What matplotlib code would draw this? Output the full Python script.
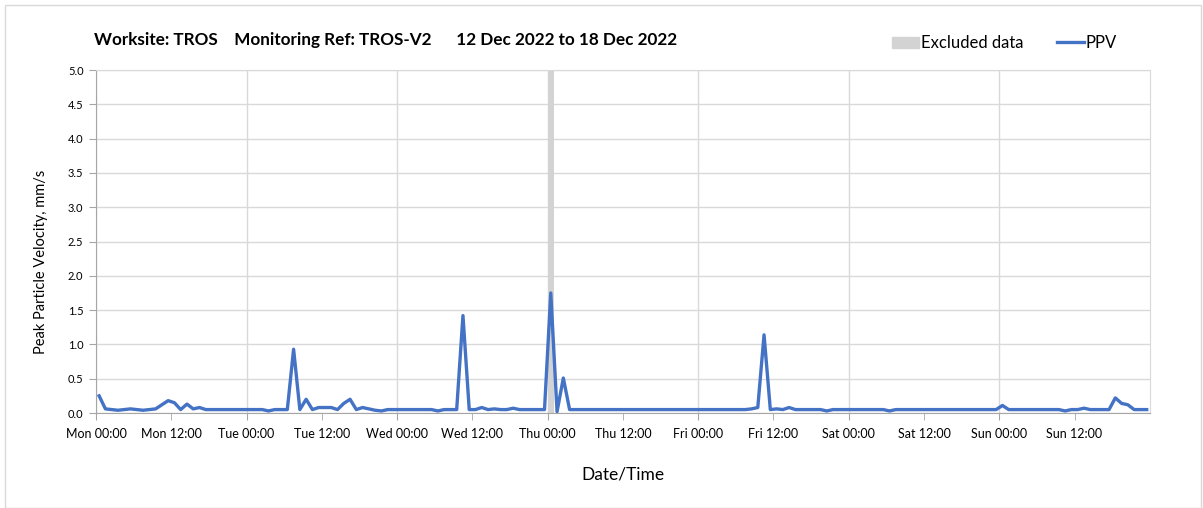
import numpy as np
import matplotlib
matplotlib.use('Agg')
import matplotlib.pyplot as plt
from matplotlib.patches import Patch, Rectangle
from matplotlib.lines import Line2D

plt.rcParams['font.family'] = ['Lato', 'DejaVu Sans']

# hourly PPV readings (mm/s), Mon 00:30 .. Sun 23:30
ppv = [
    0.25, 0.06, 0.05, 0.04, 0.05, 0.06, 0.05, 0.04, 0.05, 0.06, 0.12, 0.18,
    0.15, 0.05, 0.13, 0.06, 0.08, 0.05, 0.05, 0.05, 0.05, 0.05, 0.05, 0.05,
    0.05, 0.05, 0.05, 0.03, 0.05, 0.05, 0.05, 0.93, 0.05, 0.20, 0.05, 0.08,
    0.08, 0.08, 0.05, 0.14, 0.20, 0.05, 0.08, 0.06, 0.04, 0.03, 0.05, 0.05,
    0.05, 0.05, 0.05, 0.05, 0.05, 0.05, 0.03, 0.05, 0.05, 0.05, 1.42, 0.05,
    0.05, 0.08, 0.05, 0.06, 0.05, 0.05, 0.07, 0.05, 0.05, 0.05, 0.05, 0.05,
    1.75, 0.02, 0.51, 0.05, 0.05, 0.05, 0.05, 0.05, 0.05, 0.05, 0.05, 0.05,
    0.05, 0.05, 0.05, 0.05, 0.05, 0.05, 0.05, 0.05, 0.05, 0.05, 0.05, 0.05,
    0.05, 0.05, 0.05, 0.05, 0.05, 0.05, 0.05, 0.05, 0.06, 0.08, 1.14, 0.05,
    0.06, 0.05, 0.08, 0.05, 0.05, 0.05, 0.05, 0.05, 0.03, 0.05, 0.05, 0.05,
    0.05, 0.05, 0.05, 0.05, 0.05, 0.05, 0.03, 0.05, 0.05, 0.05, 0.05, 0.05,
    0.05, 0.05, 0.05, 0.05, 0.05, 0.05, 0.05, 0.05, 0.05, 0.05, 0.05, 0.05,
    0.11, 0.05, 0.05, 0.05, 0.05, 0.05, 0.05, 0.05, 0.05, 0.05, 0.03, 0.05,
    0.05, 0.07, 0.05, 0.05, 0.05, 0.05, 0.22, 0.14, 0.12, 0.05, 0.05, 0.05,
]
hours = np.arange(len(ppv)) + 0.5

# excluded period, hours from Mon 00:00
excluded = (72, 73)

days = ['Mon', 'Tue', 'Wed', 'Thu', 'Fri', 'Sat', 'Sun']
major_labels = [d + ' 00:00' for d in days]
minor_labels = [d + ' 12:00' for d in days]

title = 'Worksite: TROS    Monitoring Ref: TROS-V2      12 Dec 2022 to 18 Dec 2022'

fig = plt.figure(figsize=(12.03, 5.08), dpi=100)
ax = fig.add_axes([0.0798, 0.187, 0.876, 0.675])

ax.axvspan(excluded[0], excluded[1], color='#D3D3D3', lw=0, zorder=1)
ax.plot(hours, ppv, color='#4472C4', lw=2.4, zorder=3, solid_joinstyle='round')

ax.set_xlim(0, 168)
ax.set_ylim(0, 5)
ax.set_yticks(np.arange(0, 5.01, 0.5))
ax.set_yticklabels(['%.1f' % v for v in np.arange(0, 5.01, 0.5)], fontsize=8)
ax.set_xticks(np.arange(0, 168, 24))
ax.set_xticklabels(major_labels, fontsize=9)
ax.set_xticks(np.arange(12, 168, 24), minor=True)
ax.set_xticklabels(minor_labels, minor=True, fontsize=9)

ax.grid(axis='y', color='#D9D9D9', lw=1)
ax.grid(axis='x', which='major', color='#D9D9D9', lw=1)
ax.set_axisbelow(True)
ax.tick_params(axis='both', which='both', color='#A6A6A6', length=5, pad=4)
ax.tick_params(axis='x', which='both', pad=6)
for side in ['top', 'right']:
    ax.spines[side].set_color('#D9D9D9')
for side in ['left', 'bottom']:
    ax.spines[side].set_color('#A6A6A6')

ax.set_ylabel('Peak Particle Velocity, mm/s', fontsize=10.5)
ax.yaxis.set_label_coords(-0.046, 0.44)
ax.set_xlabel('Date/Time', fontsize=12.5, labelpad=19)

fig.text(0.078, 0.921, title, fontsize=12.3, fontweight='bold', va='center')

handles = [Patch(color='#D3D3D3', label='Excluded data'),
           Line2D([], [], color='#4472C4', lw=2.4, label='PPV')]
fig.legend(handles=handles, loc='center right', bbox_to_anchor=(0.941, 0.915),
           ncol=2, frameon=False, fontsize=12, handlelength=1.65,
           handletextpad=0.1, columnspacing=2.0)

fig.add_artist(Rectangle((0.004, 0.0), 0.994, 0.99, transform=fig.transFigure,
                         fill=False, edgecolor='#D9D9D9', lw=1))

plt.savefig('out.png', dpi=100)
